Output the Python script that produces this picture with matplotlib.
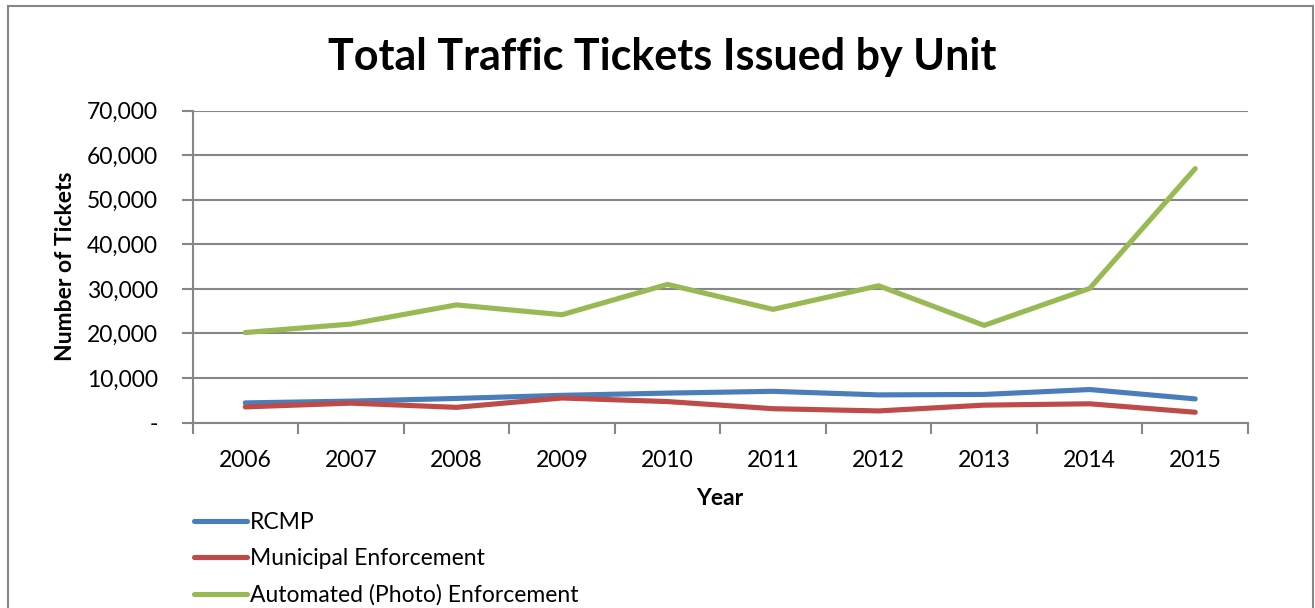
import matplotlib.pyplot as plt
import matplotlib.ticker as mticker
from matplotlib.patches import Rectangle

plt.rcParams['font.family'] = ['Lato', 'DejaVu Sans']

# Tickets issued per year by unit
years = ['2006', '2007', '2008', '2009', '2010', '2011', '2012', '2013', '2014', '2015']
rcmp = [4400, 4800, 5400, 6100, 6600, 7000, 6200, 6300, 7400, 5300]
municipal = [3500, 4350, 3400, 5500, 4700, 3100, 2600, 3900, 4200, 2300]
automated = [20200, 22100, 26400, 24200, 31000, 25400, 30700, 21800, 30100, 57000]

series = [
    ('RCMP', rcmp, '#4A7EBB'),
    ('Municipal Enforcement', municipal, '#BE4B48'),
    ('Automated (Photo) Enforcement', automated, '#98B954'),
]

W, H = 1315, 608
fig = plt.figure(figsize=(W / 100, H / 100), dpi=100)
ax = fig.add_axes([192.5 / W, 1 - 422.5 / H, (1248 - 192.5) / W, (422.5 - 110.7) / H])

x = range(len(years))
for name, vals, col in series:
    ax.plot(x, vals, color=col, linewidth=3.7, solid_capstyle='round', label=name)

grey = '#868686'
ax.set_xlim(-0.5, len(years) - 0.5)
ax.set_ylim(0, 70000)
ax.set_yticks(range(0, 70001, 10000))
ax.yaxis.set_major_formatter(mticker.FuncFormatter(lambda v, p: '-' if v == 0 else f'{int(v):,}'))
ax.yaxis.grid(True, color=grey, linewidth=1.5)
ax.set_axisbelow(True)

ax.set_xticks(list(x))
ax.set_xticklabels(years)
ax.set_xticks([i - 0.5 for i in range(len(years) + 1)], minor=True)
ax.tick_params(axis='x', which='major', length=0, pad=20, labelsize=16.5)
ax.tick_params(axis='x', which='minor', length=8, width=1.5, color=grey)
ax.tick_params(axis='y', length=8, width=1.5, color=grey, labelsize=16.5, pad=17)

for s in ['top', 'right']:
    ax.spines[s].set_visible(False)
for s in ['left', 'bottom']:
    ax.spines[s].set_color(grey)
    ax.spines[s].set_linewidth(1.5)

ax.set_ylabel('Number of Tickets', fontsize=16.5, fontweight='bold', labelpad=8)
ax.set_xlabel('Year', fontsize=16.5, fontweight='bold', labelpad=12)
fig.suptitle('Total Traffic Tickets Issued by Unit', fontsize=31, fontweight='bold',
             x=(330 + 995) / 2 / W, y=1 - 57 / H, va='center')

fig.legend(loc='upper left', bbox_to_anchor=(194 / W, 1 - 512 / H), frameon=False,
           fontsize=16.5, handlelength=2.3, handletextpad=0.15, labelspacing=0.66,
           borderaxespad=0, borderpad=0)

# chart frame
fig.patches.append(Rectangle((8 / W, -0.05), (1313 - 8) / W, 1.05 - 6 / H,
                             transform=fig.transFigure, fill=False,
                             edgecolor=grey, linewidth=1.5))

fig.savefig('out.png', dpi=100)
